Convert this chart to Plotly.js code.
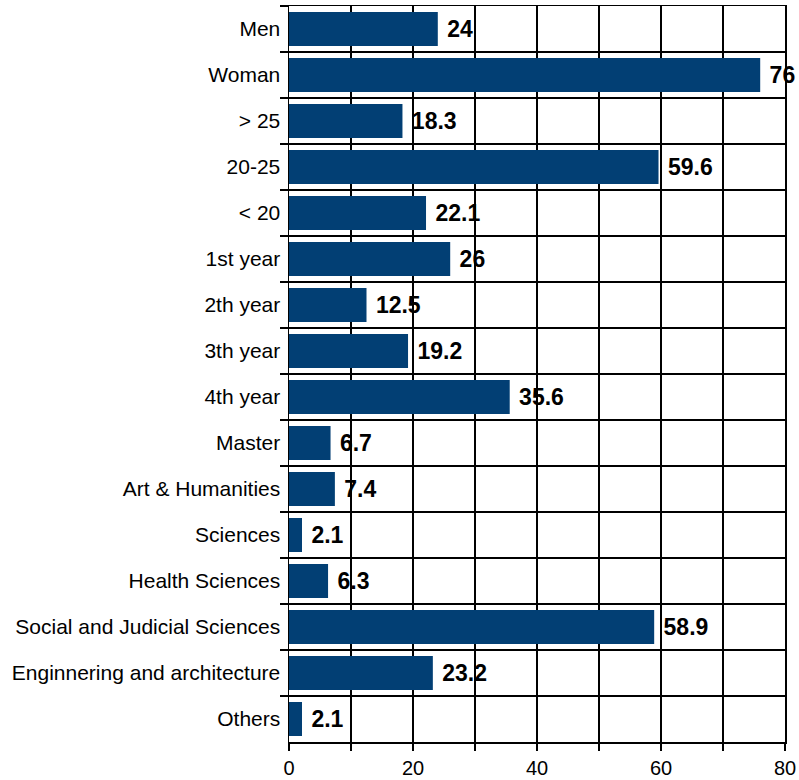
<!DOCTYPE html>
<html>
<head>
<meta charset="utf-8">
<script src="https://cdn.plot.ly/plotly-3.0.1.min.js"></script>
<style>html,body{margin:0;padding:0;background:#fff;}</style>
</head>
<body>
<div id="chart" style="width:799px;height:780px;"></div>
<script>
const categories = ["Men", "Woman", "> 25", "20-25", "< 20", "1st year", "2th year", "3th year", "4th year", "Master", "Art & Humanities", "Sciences", "Health Sciences", "Social and Judicial Sciences", "Enginnering and architecture", "Others"];
const values = [24, 76, 18.3, 59.6, 22.1, 26, 12.5, 19.2, 35.6, 6.7, 7.4, 2.1, 6.3, 58.9, 23.2, 2.1];
const xTickVals = [0, 20, 40, 60, 80];

const trace = {
  type: 'bar',
  orientation: 'h',
  y: categories,
  x: values,
  marker: {color: '#023f74', line: {width: 0}},
  text: values.map(v => '\u00a0' + v),
  textposition: 'outside',
  textfont: {family: 'Liberation Sans, Arial, sans-serif', size: 23, color: '#000', weight: 'bold'},
  cliponaxis: false,
  constraintext: 'none',
  hoverinfo: 'skip'
};

const layout = {
  width: 799,
  height: 780,
  margin: {l: 289, r: 14, t: 6, b: 38, pad: 0},
  paper_bgcolor: '#fff',
  plot_bgcolor: '#fff',
  showlegend: false,
  bargap: 0.26,
  font: {family: 'Liberation Sans, Arial, sans-serif', size: 19, color: '#000'},
  xaxis: {
    range: [0, 80],
    tickvals: xTickVals,
    ticks: 'outside',
    ticklen: 7,
    tickwidth: 1.5,
    tickcolor: '#000',
    showgrid: true,
    gridcolor: '#000',
    gridwidth: 1.5,
    minor: {dtick: 10, tick0: 0, showgrid: true, gridcolor: '#000', gridwidth: 1.5, ticks: 'outside', ticklen: 7, tickwidth: 1.5, tickcolor: '#000'},
    showline: true,
    linecolor: '#000',
    linewidth: 1.5,
    mirror: true,
    zeroline: false,
    tickfont: {size: 20},
    automargin: false,
    fixedrange: true
  },
  yaxis: {
    type: 'category',
    autorange: 'reversed',
    tickson: 'boundaries',
    ticks: 'outside',
    ticklen: 8,
    tickwidth: 1.5,
    tickcolor: '#000',
    showgrid: true,
    gridcolor: '#000',
    gridwidth: 1.5,
    showline: true,
    linecolor: '#000',
    linewidth: 1.5,
    mirror: true,
    zeroline: false,
    tickfont: {size: 21},
    ticklabelstandoff: 3,
    automargin: false,
    fixedrange: true
  }
};

Plotly.newPlot('chart', [trace], layout, {displayModeBar: false, staticPlot: true});
</script>
</body>
</html>
